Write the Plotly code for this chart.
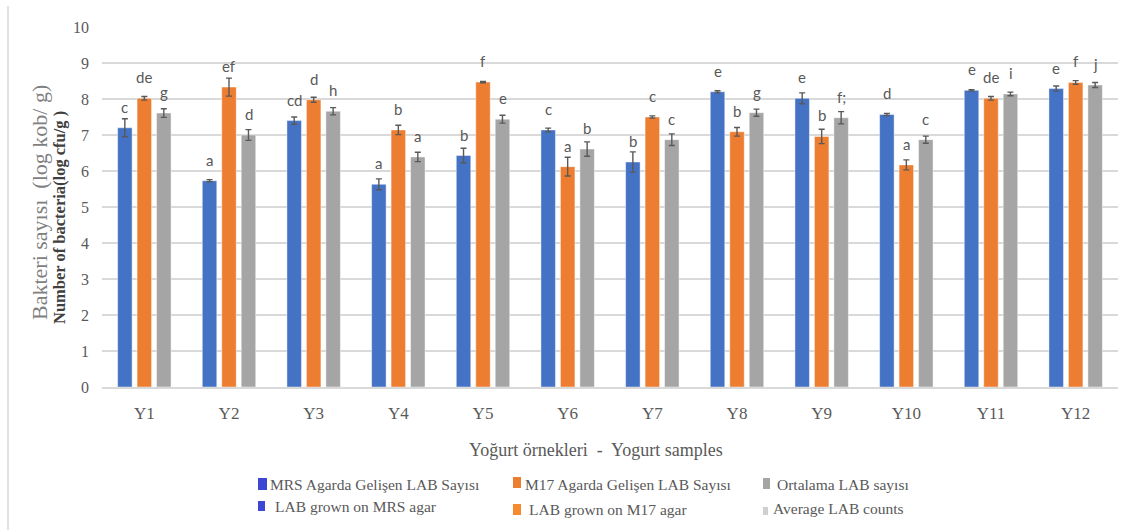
import plotly.graph_objects as go

# Yogurt samples
samples = ["Y1", "Y2", "Y3", "Y4", "Y5", "Y6", "Y7", "Y8", "Y9", "Y10", "Y11", "Y12"]

# LAB counts on MRS agar (log cfu/g) with standard deviations and letter groups
mrs = [7.20, 5.73, 7.40, 5.63, 6.43, 7.14, 6.25, 8.20, 8.02, 7.57, 8.24, 8.29]
mrs_err = [0.25, 0.03, 0.10, 0.15, 0.20, 0.05, 0.28, 0.03, 0.15, 0.03, 0.02, 0.07]
mrs_sig = ["c", "a", "cd", "a", "b", "c", "b", "e", "e", "d", "e", "e"]

# LAB counts on M17 agar
m17 = [8.02, 8.33, 7.98, 7.14, 8.47, 6.12, 7.50, 7.09, 6.96, 6.17, 8.02, 8.46]
m17_err = [0.05, 0.25, 0.07, 0.13, 0.02, 0.26, 0.03, 0.12, 0.20, 0.14, 0.05, 0.05]
m17_sig = ["de", "ef", "d", "b", "f", "a", "c", "b", "b", "a", "de", "f"]

# Average LAB counts
avg = [7.61, 7.00, 7.66, 6.39, 7.44, 6.61, 6.87, 7.62, 7.48, 6.87, 8.14, 8.39]
avg_err = [0.12, 0.15, 0.10, 0.13, 0.11, 0.20, 0.16, 0.10, 0.17, 0.10, 0.05, 0.07]
avg_sig = ["g", "d", "h", "a", "e", "b", "c", "g", "f;", "c", "i", "j"]

BLUE, ORANGE, GRAY = "#4472C4", "#ED7D31", "#A5A5A5"
TEXT = "#595959"
SERIF = "Liberation Serif"

W, H = 1127, 530
L, R, T, B = 102, 9, 27, 143
PW, PH = W - L - R, H - T - B


def px(x):
    return (x - L) / PW


def py(y):
    return (H - B - y) / PH


series = [
    ("MRS", mrs, mrs_err, mrs_sig, BLUE, -19.5),
    ("M17", m17, m17_err, m17_sig, ORANGE, 0.0),
    ("Ortalama", avg, avg_err, avg_sig, GRAY, 19.5),
]

fig = go.Figure()
annotations = []
for name, vals, errs, sig, color, shift in series:
    fig.add_trace(go.Bar(
        x=samples, y=vals, name=name,
        marker=dict(color=color, line=dict(color="rgba(255,255,255,0.55)", width=0.8)),
        error_y=dict(type="data", array=errs, visible=True,
                     color="#595959", thickness=1.4, width=3),
    ))
    for s, v, t in zip(samples, vals, sig):
        annotations.append(dict(
            x=s, y=v, xref="x", yref="y", text=t, showarrow=False,
            xshift=shift, yshift=21, xanchor="center", yanchor="middle",
            font=dict(family="Lato", size=15, color=TEXT),
        ))

# Axis titles
annotations.append(dict(
    x=px(39), y=py(203), xref="paper", yref="paper", textangle=-90, showarrow=False,
    xanchor="center", yanchor="middle",
    text="Bakteri sayısı  (log kob/ g)",
    font=dict(family=SERIF, size=22, color="#7f7f7f"),
))
annotations.append(dict(
    x=px(59), y=py(218), xref="paper", yref="paper", textangle=-90, showarrow=False,
    xanchor="center", yanchor="middle",
    text="<b>Number of bacteria(log cfu/g )</b>",
    font=dict(family=SERIF, size=16.5, color="#404040"),
))
annotations.append(dict(
    x=px(596), y=py(450), xref="paper", yref="paper", showarrow=False,
    xanchor="center", yanchor="middle",
    text="Yoğurt örnekleri  -  Yogurt samples",
    font=dict(family=SERIF, size=18, color=TEXT),
))

# Legend drawn as swatches with two-language labels
legend_items = [
    (258, 267, 478, 490, "#3D47D4", 268, 484, "MRS Agarda Gelişen LAB Sayısı"),
    (258, 265, 501, 511, "#3D47D4", 273, 506, "LAB grown on MRS agar"),
    (513, 521, 477, 488, "#ED7D31", 523, 484, "M17 Agarda Gelişen LAB Sayısı"),
    (513, 521, 504, 515, "#F58A2E", 527, 509, "LAB grown on M17 agar"),
    (763, 770, 478, 489, "#A5A5A5", 775, 484, "Ortalama LAB sayısı"),
    (763, 768, 507, 515, "#CFCFCF", 771, 508, "Average LAB counts"),
]
shapes = []
for x0, x1, y0, y1, c, tx, ty, label in legend_items:
    shapes.append(dict(type="rect", xref="paper", yref="paper",
                       x0=px(x0), x1=px(x1), y0=py(y1), y1=py(y0),
                       fillcolor=c, line=dict(width=0)))
    annotations.append(dict(
        x=px(tx), y=py(ty), xref="paper", yref="paper", showarrow=False,
        xanchor="left", yanchor="middle", text=label,
        font=dict(family=SERIF, size=15.5, color=TEXT),
    ))

# Thin frame line along the left edge
shapes.append(dict(type="line", xref="paper", yref="paper",
                   x0=px(8), x1=px(8), y0=py(530), y1=py(6),
                   line=dict(color="#d9d9d9", width=1.5)))

fig.update_layout(
    width=W, height=H,
    margin=dict(l=L, r=R, t=T, b=B),
    paper_bgcolor="white", plot_bgcolor="white",
    barmode="group", bargap=0.31, bargroupgap=0.256,
    showlegend=False,
    annotations=annotations, shapes=shapes,
    xaxis=dict(
        showgrid=False, showline=True, linecolor="#d9d9d9", linewidth=1.5,
        ticks="", tickfont=dict(family=SERIF, size=17, color=TEXT),
        ticklabelstandoff=10,
    ),
    yaxis=dict(
        range=[0, 10], dtick=1, showgrid=True, gridcolor="#d9d9d9", gridwidth=1.5,
        zeroline=False, showline=False, ticks="",
        tickfont=dict(family=SERIF, size=16, color=TEXT),
        ticklabelstandoff=12,
    ),
)

fig.write_html("out.html")
